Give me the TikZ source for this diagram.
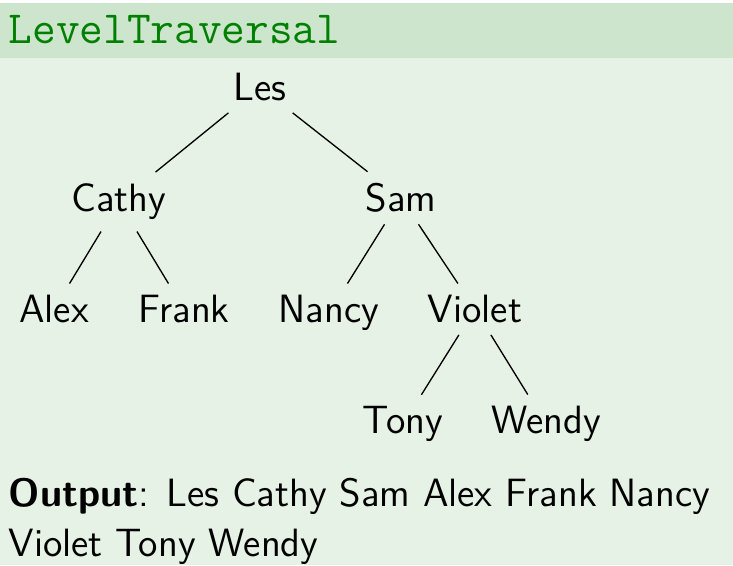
\documentclass[tikz,border=0pt]{standalone}
\usepackage{fontspec}
\definecolor{exgreen}{RGB}{0,128,0}
\colorlet{titlebg}{exgreen!20!white}
\colorlet{bodybg}{exgreen!10!white}
\tikzset{
  tn/.style={anchor=base, font=\sffamily\fontsize{11.85}{15}\selectfont, inner sep=0.333em},
  bodytext/.style={anchor=base west, inner sep=0pt, font=\sffamily\fontsize{11.85}{15}\selectfont},
  edge/.style={draw=black, line width=0.4pt}
}
\begin{document}
\begin{tikzpicture}[x=0.3pt,y=-0.3pt]
\useasboundingbox (0,0) rectangle (733,565);
\fill[bodybg] (0,58) rectangle (733,565);
\fill[titlebg] (0,3) rectangle (733,58);
\node[anchor=base west, inner sep=0pt, text=exgreen, font=\ttfamily\fontsize{13.8}{16}\selectfont] (title) at (8,43.5) {LevelTraversal};
\node[tn] (les) at (260,100.7) {Les};
\node[tn] (cathy) at (119,211.7) {Cathy};
\node[tn] (sam) at (401,211.7) {Sam};
\node[tn] (alex) at (54,322.7) {Alex};
\node[tn] (frank) at (184,322.7) {Frank};
\node[tn] (nancy) at (329,322.7) {Nancy};
\node[tn] (violet) at (475,322.7) {Violet};
\node[tn] (tony) at (403,433.7) {Tony};
\node[tn] (wendy) at (546,433.7) {Wendy};
\draw[edge] (les) -- (cathy);
\draw[edge] (les) -- (sam);
\draw[edge] (cathy) -- (alex);
\draw[edge] (cathy) -- (frank);
\draw[edge] (sam) -- (nancy);
\draw[edge] (sam) -- (violet);
\draw[edge] (violet) -- (tony);
\draw[edge] (violet) -- (wendy);
\node[bodytext] (out1) at (8,506) {\textbf{Output}: Les Cathy Sam Alex Frank Nancy};
\node[bodytext] (out2) at (8,556) {Violet Tony Wendy};
\end{tikzpicture}
\end{document}
